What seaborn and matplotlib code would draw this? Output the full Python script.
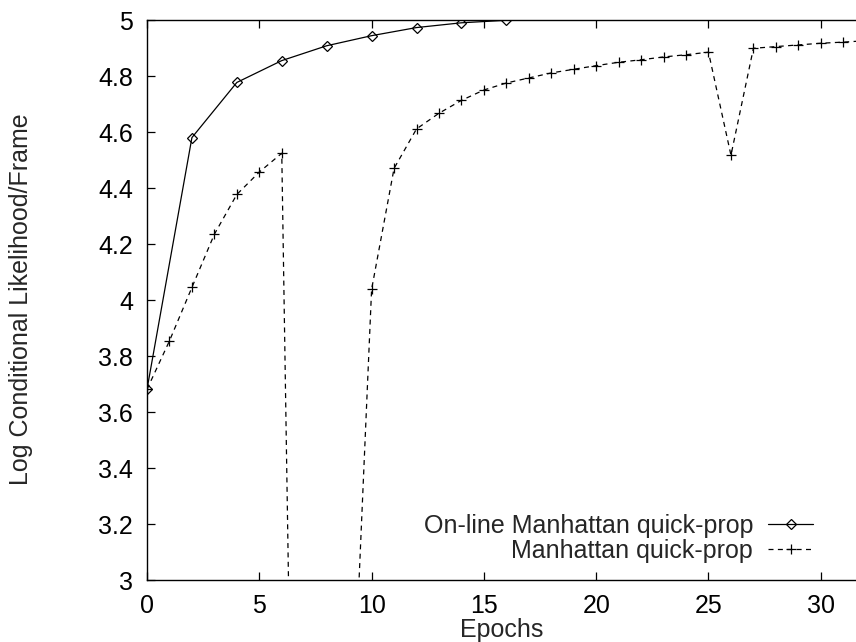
import matplotlib
matplotlib.use("Agg")
import matplotlib.pyplot as plt
import seaborn as sns
import pandas as pd

# Data
online_epochs = [0, 2, 4, 6, 8, 10, 12, 14, 16]
online_values = [3.681, 4.580, 4.777, 4.855, 4.908, 4.944, 4.973, 4.990, 4.999]

qp_epochs = list(range(0, 33))
qp_values = [3.681, 3.854, 4.045, 4.235, 4.377, 4.457, 4.524, -0.56, 0.8, 2.18,
             4.038, 4.470, 4.611, 4.667, 4.713, 4.750, 4.775, 4.793, 4.811, 4.824,
             4.837, 4.849, 4.858, 4.868, 4.876, 4.885, 4.517, 4.899, 4.905, 4.911,
             4.917, 4.921, 4.926]

x_ticks = [0, 5, 10, 15, 20, 25, 30]
y_ticks = [3, 3.2, 3.4, 3.6, 3.8, 4, 4.2, 4.4, 4.6, 4.8, 5]
y_tick_labels = ["3", "3.2", "3.4", "3.6", "3.8", "4", "4.2", "4.4", "4.6", "4.8", "5"]

sns.set_style("ticks")
plt.rcParams["font.family"] = ["Liberation Sans", "DejaVu Sans"]

df_online = pd.DataFrame({"Epochs": online_epochs, "val": online_values})
df_qp = pd.DataFrame({"Epochs": qp_epochs, "val": qp_values})

W, H = 856, 642
fig = plt.figure(figsize=(W / 100, H / 100), dpi=100)
ax = fig.add_axes([147 / W, 1 - 580 / H, 1 - 147 / W, (580 - 20) / H])

sns.lineplot(data=df_online, x="Epochs", y="val", ax=ax, color="black",
             linewidth=0.9, marker="D", markersize=5.5, markerfacecolor="none",
             markeredgecolor="black", markeredgewidth=0.9,
             label="On-line Manhattan quick-prop", sort=False)
sns.lineplot(data=df_qp, x="Epochs", y="val", ax=ax, color="black",
             linewidth=0.9, linestyle=(0, (4, 3.5)), marker="+", markersize=7.5,
             markeredgecolor="black", markeredgewidth=0.9,
             label="Manhattan quick-prop", sort=False)

ax.set_xlim(0, (W - 147) / 22.46)
ax.set_ylim(3, 5)
ax.set_xticks(x_ticks)
ax.set_xticklabels([str(t) for t in x_ticks])
ax.set_yticks(y_ticks)
ax.set_yticklabels(y_tick_labels)

FS = 18
ax.tick_params(axis="both", direction="in", length=6, width=0.9, labelsize=FS,
               color="black", labelcolor="black")
ax.tick_params(axis="x", top=True, pad=10)
ax.tick_params(axis="y", pad=10)
ax.spines["right"].set_visible(False)
for s in ["left", "top", "bottom"]:
    ax.spines[s].set_linewidth(1.0)
    ax.spines[s].set_color("black")

ax.set_xlabel("Epochs", fontsize=FS, labelpad=0)
ax.set_ylabel("Log Conditional Likelihood/Frame", fontsize=FS)
ax.yaxis.set_label_coords(33 / W, 1 - 299 / H, transform=fig.transFigure)

leg = ax.legend(loc="lower right", bbox_to_anchor=(813 / W, 1 - 563 / H),
                bbox_transform=fig.transFigure, frameon=False,
                markerfirst=False, fontsize=FS, handlelength=1.8,
                labelspacing=0.06, handletextpad=0.6, borderaxespad=0,
                borderpad=0)
for t in leg.get_texts():
    t.set_ha("right")

fig.savefig("out.png", dpi=100)
